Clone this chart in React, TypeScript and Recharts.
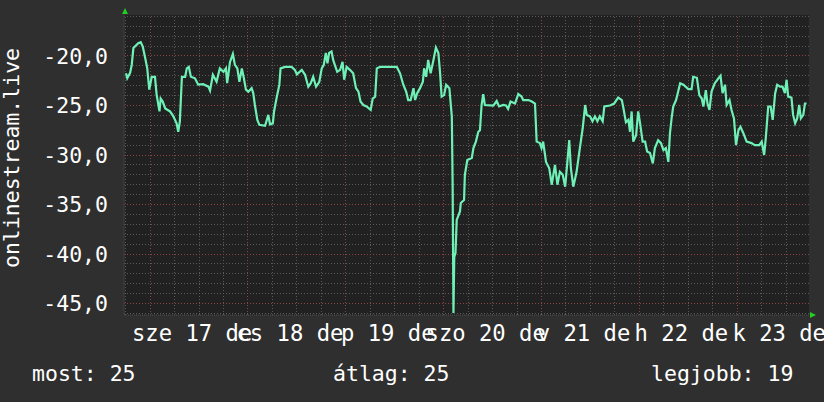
import React from "react";
import { LineChart, Line, XAxis, YAxis, ReferenceLine, ReferenceArea } from "recharts";

// time in hours from the left edge of the plot
const T = [
  0.5, 0.8, 1.5, 1.9, 2.3, 3.5, 4.1, 4.6, 5.2, 5.7,
  6.2, 6.8, 7.6, 8.0, 8.7, 9.0, 9.5, 10.1, 11.3, 12.1,
  12.9, 13.3, 13.7, 14.2, 15.0, 15.4, 15.9, 16.4, 17.4, 18.2,
  19.4, 20.7, 21.1, 21.8, 22.7, 23.5, 24.4, 25.0, 25.3, 26.0,
  26.7, 27.2, 27.8, 28.3, 28.9, 29.4, 29.9, 30.5, 31.3, 31.7,
  32.1, 32.7, 33.2, 34.6, 35.4, 35.8, 36.5, 36.8, 37.4, 38.1,
  38.4, 39.5, 41.1, 41.9, 42.4, 43.6, 44.4, 45.2, 45.8, 46.4,
  47.1, 47.9, 48.5, 49.0, 49.5, 49.9, 50.3, 50.9, 51.3, 51.7,
  52.3, 53.0, 53.6, 54.0, 54.6, 55.4, 56.2, 56.9, 57.5, 58.0,
  58.7, 59.5, 60.5, 61.0, 61.6, 62.0, 62.8, 66.9, 67.7, 68.5,
  69.2, 69.7, 70.3, 71.0, 71.4, 71.9, 72.6, 73.3, 73.6, 74.1,
  74.6, 75.2, 75.9, 76.5, 77.1, 77.5, 77.9, 78.5, 79.0, 79.8,
  80.4, 80.6, 80.8, 81.0, 81.3, 81.6, 82.4, 82.6, 83.4, 83.6,
  84.2, 85.3, 85.7, 86.3, 86.9, 87.3, 87.7, 88.1, 88.5, 90.6,
  91.4, 92.0, 93.0, 93.7, 94.2, 94.8, 95.9, 96.7, 97.5, 97.9,
  99.2, 100.0, 100.8, 101.2, 102.0, 102.4, 102.8, 103.5, 104.3, 104.9,
  105.7, 106.3, 106.9, 107.6, 108.2, 109.2, 109.6, 110.2, 111.0, 111.8,
  112.5, 113.1, 113.5, 114.3, 114.9, 115.5, 116.1, 116.7, 117.4, 117.8,
  119.2, 120.2, 121.2, 122.1, 122.5, 123.1, 123.7, 124.1, 124.5, 124.9,
  125.6, 126.1, 126.5, 127.2, 127.8, 128.3, 129.0, 129.7, 130.2, 131.0,
  131.7, 132.3, 132.9, 133.5, 133.9, 134.3, 134.7, 135.4, 136.4, 137.2,
  138.4, 139.2, 139.6, 140.5, 141.1, 141.7, 142.1, 142.7, 143.1, 143.6,
  144.1, 144.9, 145.8, 146.3, 146.8, 147.4, 147.8, 148.5, 149.0, 149.6,
  150.1, 150.7, 151.2, 151.9, 152.7, 153.9, 154.7, 155.8, 156.4, 157.0,
  157.4, 158.0, 158.6, 159.1, 159.7, 160.2, 160.9, 161.5, 162.1, 162.5,
  162.9, 163.7, 164.1, 164.6, 165.1, 165.6, 166.0, 166.6, 167.0, 167.4,
];

const V = [
  -21.75, -22.25, -21.7, -20.9, -19.2, -18.7, -18.6, -19.05, -20.2, -21.25,
  -23.4, -22.1, -22.1, -23.9, -25.6, -24.3, -24.6, -25.3, -25.6, -26.1,
  -26.8, -27.65, -26.6, -22.1, -22.1, -21.25, -21.1, -22.1, -22.25, -22.9,
  -22.85, -23.1, -23.5, -21.9, -22.6, -21.25, -21.6, -21.25, -22.75, -20.6,
  -19.8, -20.9, -21.25, -22.6, -21.25, -22.25, -23.4, -23.6, -23.25, -23.75,
  -24.95, -26.45, -26.95, -27.05, -25.95, -26.9, -26.8, -25.6, -24.3, -22.9,
  -21.25, -21.1, -21.1, -21.4, -21.85, -21.4, -21.9, -23.1, -22.75, -22.1,
  -23.1, -22.6, -21.25, -20.9, -19.7, -20.75, -19.7, -19.55, -20.4, -20.9,
  -21.6, -21.4, -20.6, -22.4, -21.1, -21.4, -21.75, -23.25, -23.6, -24.6,
  -24.95, -25.1, -25.45, -24.3, -24.1, -21.25, -21.1, -21.1, -21.75, -22.9,
  -23.6, -24.45, -24.45, -23.25, -24.45, -23.75, -23.25, -22.6, -21.25, -22.1,
  -20.4, -21.75, -20.4, -19.15, -19.7, -21.6, -24.1, -23.95, -22.9, -23.25,
  -26.1, -33.0, -45.95, -40.3, -39.9, -36.55, -35.7, -34.85, -34.55, -32.0,
  -30.5, -30.3, -29.3, -28.65, -27.65, -27.5, -24.95, -23.85, -24.95, -25.0,
  -24.55, -25.1, -24.95, -25.0, -25.35, -24.6, -24.8, -23.85, -24.1, -24.45,
  -24.45, -24.6, -24.8, -28.65, -28.8, -29.3, -28.65, -30.7, -31.35, -33.0,
  -31.0, -33.0, -31.7, -32.0, -33.2, -28.5, -31.35, -33.2, -31.7, -29.3,
  -27.3, -24.95, -25.95, -26.1, -26.6, -26.1, -26.6, -26.1, -26.6, -25.1,
  -25.0, -24.8, -24.2, -24.45, -25.3, -26.7, -26.45, -27.65, -25.6, -28.65,
  -28.0, -25.6, -26.6, -28.65, -28.65, -29.65, -29.8, -30.85, -29.3, -28.5,
  -28.8, -29.5, -29.3, -30.7, -27.8, -26.3, -25.1, -24.45, -22.75, -22.9,
  -23.35, -23.35, -22.1, -22.2, -23.95, -24.3, -25.1, -23.45, -24.8, -25.45,
  -23.6, -22.75, -22.25, -22.0, -23.75, -22.9, -24.95, -24.45, -25.45, -26.3,
  -29.0, -27.5, -27.15, -27.8, -28.65, -28.8, -29.0, -29.0, -28.65, -30.0,
  -28.3, -25.1, -25.1, -26.45, -23.75, -22.9, -23.1, -23.1, -23.75, -22.4,
  -24.1, -24.2, -25.95, -26.8, -26.3, -24.95, -26.3, -25.95, -24.8, -24.8,
];

const X_DOMAIN = [0, 168];
const Y_DOMAIN = [-46.16, -15.86];

const Y_TICKS = [-45, -40, -35, -30, -25, -20];
const Y_MINOR = [-46, -44, -43, -42, -41, -39, -38, -37, -36, -34, -33, -32, -31, -29, -28, -27, -26, -24, -23, -22, -21, -19, -18, -17, -16];
const X_MAJOR = [6.4, 30.4, 54.4, 78.4, 102.4, 126.4, 150.4];
const X_MINOR = [0.4, 12.4, 18.4, 24.4, 36.4, 42.4, 48.4, 60.4, 66.4, 72.4, 84.4, 90.4, 96.4, 108.4, 114.4, 120.4, 132.4, 138.4, 144.4, 156.4, 162.4];

const X_LABEL_POS = [16.7, 40.7, 64.7, 88.7, 112.7, 136.7, 160.7];
const X_LABELS = ["sze 17 de", "cs 18 de", "p 19 de", "szo 20 de", "v 21 de", "h 22 de", "k 23 de"];

const LEGEND = [
  { text: "most: 25", x: 32 },
  { text: "átlag: 25", x: 333 },
  { text: "legjobb: 19", x: 651 },
];

const data = T.map((t, i) => ({ t, v: V[i] }));

const FONT = "'DejaVu Sans Mono', monospace";
const TXT = { fill: "#ffffff", fontSize: 21.5, fontFamily: FONT };
const XTXT = { ...TXT, fontSize: 22.2 };
const MINOR = "#5a5a5a";
const MAJOR = "#8a4444";

export default function App() {
  return (
    <div style={{ position: "absolute", left: 0, top: 0, width: 824, height: 402, background: "#2f2f2f" }}>
      <LineChart width={824} height={402} data={data} margin={{ top: 15, right: 15, bottom: 47, left: 0 }}>
        <XAxis dataKey="t" type="number" domain={X_DOMAIN} ticks={X_LABEL_POS} interval={0}
          tickFormatter={(v) => X_LABELS[X_LABEL_POS.indexOf(v)] ?? ""}
          tick={XTXT} tickLine={false} tickSize={0} tickMargin={10} height={40}
          axisLine={{ stroke: "#555", strokeDasharray: "1 1" }} allowDataOverflow />
        <YAxis type="number" domain={Y_DOMAIN} ticks={Y_TICKS} width={124}
          tickFormatter={(v) => v.toFixed(1).replace(".", ",")}
          tick={TXT} tickLine={false} tickSize={0} tickMargin={16}
          axisLine={{ stroke: "#404040" }} allowDataOverflow />
        <ReferenceArea x1={X_DOMAIN[0]} x2={X_DOMAIN[1]} y1={Y_DOMAIN[0]} y2={Y_DOMAIN[1]}
          fill="#212121" fillOpacity={1} stroke="none" />
        {Y_MINOR.map((y) => <ReferenceLine key={"ym" + y} y={y} stroke={MINOR} strokeDasharray="1 2" shapeRendering="crispEdges" />)}
        {X_MINOR.map((x) => <ReferenceLine key={"xm" + x} x={x} stroke={MINOR} strokeDasharray="1 2" shapeRendering="crispEdges" />)}
        {Y_TICKS.map((y) => <ReferenceLine key={"yM" + y} y={y} stroke={MAJOR} strokeDasharray="1 2" shapeRendering="crispEdges" />)}
        {X_MAJOR.map((x) => <ReferenceLine key={"xM" + x} x={x} stroke={MAJOR} strokeDasharray="1 2" shapeRendering="crispEdges" />)}
        <Line type="linear" dataKey="v" stroke="#6ff0b6" strokeWidth={2.2} dot={false} isAnimationActive={false} />
      </LineChart>
      <svg width={824} height={402} style={{ position: "absolute", left: 0, top: 0, pointerEvents: "none" }}>
        <text x={19} y={158} transform="rotate(-90 19 158)" textAnchor="middle" {...TXT}>onlinestream.live</text>
        <polygon points="122,14 128,14 125,8" fill="#22d022" />
        <polygon points="810,312 810,318 816,315" fill="#22d022" />
        {LEGEND.map((l) => <text key={l.text} x={l.x} y={381} {...TXT}>{l.text}</text>)}
      </svg>
    </div>
  );
}
